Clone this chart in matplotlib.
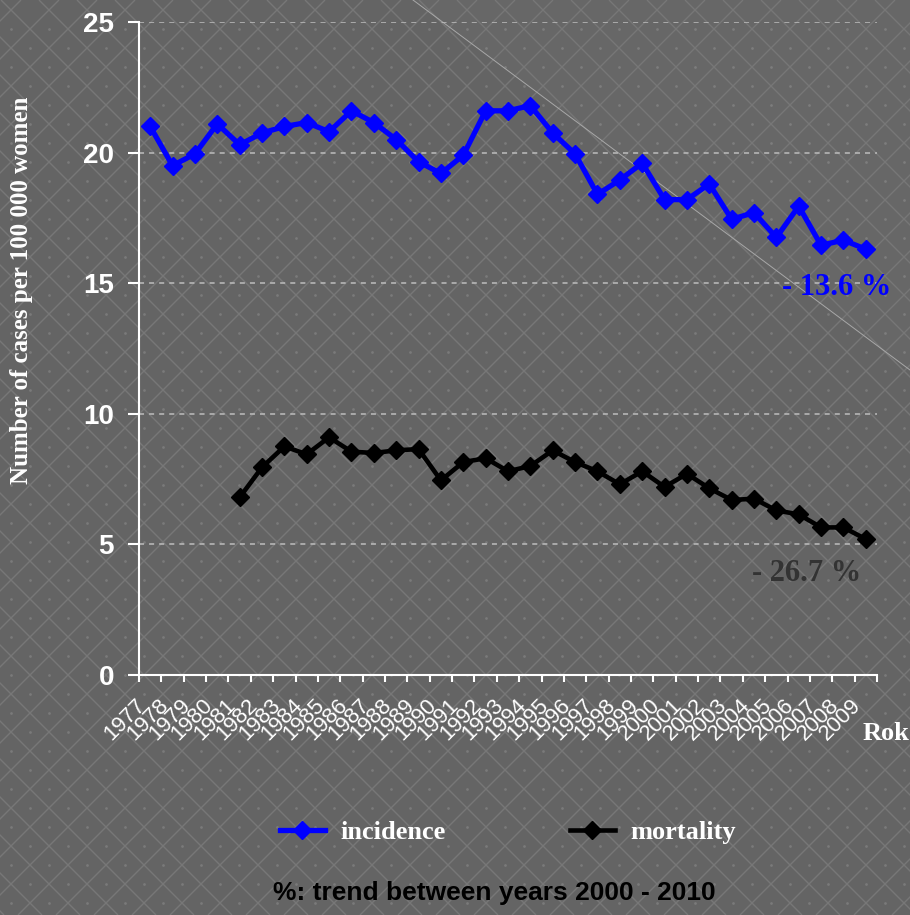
import matplotlib
matplotlib.use('Agg')
import matplotlib.pyplot as plt
import numpy as np
from matplotlib.collections import LineCollection

# data
years = list(range(1977, 2010))
incidence = [21.0, 19.5, 19.95, 21.1, 20.3, 20.75, 21.0, 21.15, 20.8, 21.6, 21.15, 20.5,
             19.65, 19.2, 19.9, 21.6, 21.6, 21.8, 20.75, 19.95, 18.4, 18.95, 19.6, 18.2,
             18.2, 18.8, 17.45, 17.7, 16.75, 17.95, 16.45, 16.65, 16.3]
mort_years = list(range(1981, 2010))
mortality = [6.8, 7.95, 8.75, 8.45, 9.1, 8.55, 8.5, 8.6, 8.65, 7.45, 8.15, 8.3, 7.8,
             8.0, 8.6, 8.15, 7.8, 7.3, 7.8, 7.2, 7.7, 7.15, 6.7, 6.75, 6.3, 6.15,
             5.65, 5.65, 5.2]
inc_trend = '- 13.6 %'
mort_trend = '- 26.7 %'

W, H = 910, 915
fig = plt.figure(figsize=(W / 100, H / 100), dpi=100)
fig.patch.set_facecolor('#646464')

# background lattice (pixel coordinates)
bg = fig.add_axes([0, 0, 1, 1])
bg.set_xlim(0, W)
bg.set_ylim(H, 0)
bg.axis('off')
segs = []
for c in np.arange(59 - 38 * 30, W + H + 38, 38):
    segs.append([(c, 0), (c - H, H)])
for c in np.arange(1 - 38 * 30, W + 38, 38):
    segs.append([(c, 0), (c + H, H)])
bg.add_collection(LineCollection(segs, colors='#777777', linewidths=1.0))
dx, dy = np.meshgrid(np.arange(11, W, 38), np.arange(29, H, 38))
bg.scatter(dx.ravel(), dy.ravel(), s=4, color='#7a7a7a', lw=0)
dx, dy = np.meshgrid(np.arange(30, W, 38), np.arange(48, H, 38))
bg.scatter(dx.ravel(), dy.ravel(), s=4, color='#7a7a7a', lw=0)
bg.fill([413, W, W], [0, 0, 370], color='white', alpha=0.025, lw=0)
bg.plot([413, W], [0, 370], color='#a8a8a8', lw=0.7)

ax = fig.add_axes([139 / W, 1 - 675 / H, 738 / W, 653 / H])
ax.set_facecolor('none')

xi = np.arange(len(years))
xm = np.array([years.index(y) for y in mort_years])
ax.plot(xi, incidence, color='#0000ff', lw=3.8, marker='D', ms=9.5, label='incidence')
ax.plot(xm, mortality, color='black', lw=3.3, marker='D', ms=9, label='mortality')

ax.set_xlim(-0.5, len(years) - 0.5)
ax.set_ylim(0, 25)
ax.set_yticks([0, 5, 10, 15, 20, 25])
for v in [5, 10, 15, 20, 25]:
    ax.axhline(v, color='#bdbdbd', lw=1.1, ls=(0, (3.3, 3.3)), zorder=0)

ax.set_xticks(np.arange(-0.5, len(years), 1.0), minor=False)
ax.set_xticklabels([])
ax.set_xticks(xi, minor=True)
ax.set_xticklabels([str(y) for y in years], minor=True, rotation=45, ha='right', va='top',
                   fontsize=16, family='Liberation Sans', color='white')
ax.tick_params(axis='x', which='major', direction='out', length=5, width=1.5, color='white')
ax.tick_params(axis='x', which='minor', length=0, pad=14)
ax.tick_params(axis='y', direction='out', length=8, width=1.5, color='white', pad=10,
               labelsize=20, labelcolor='white')
for t in ax.get_yticklabels():
    t.set_fontweight('bold')
    t.set_family('Liberation Sans')

for s in ['top', 'right']:
    ax.spines[s].set_visible(False)
for s in ['left', 'bottom']:
    ax.spines[s].set_color('white')
    ax.spines[s].set_linewidth(1.5)

serif = 'Liberation Serif'
ax.text(30.7, 14.55, inc_trend, color='#0000ff', fontsize=22, fontweight='bold',
        family=serif, ha='center', va='baseline')
ax.text(29.37, 3.6, mort_trend, color='#333333', fontsize=22, fontweight='bold',
        family=serif, ha='center', va='baseline')

fig.text(22 / W, 1 - 290 / H, 'Number of cases per 100 000 women', rotation=90,
         ha='center', va='center', color='white', fontsize=18, fontweight='bold', family=serif)
fig.text(886 / W, 1 - 733 / H, 'Rok', ha='center', va='center', color='white',
         fontsize=19, fontweight='bold', family=serif)

fig.legend(loc='center', bbox_to_anchor=(508 / W, 1 - 832 / H), ncol=2, frameon=False,
           handlelength=1.7, handletextpad=0.6, columnspacing=4.7,
           prop={'family': serif, 'weight': 'bold', 'size': 19}, labelcolor='white')

fig.text(494 / W, 1 - 893 / H, '%: trend between years 2000 - 2010', ha='center', va='center',
         color='black', fontsize=19, fontweight='bold', family='Liberation Sans')

fig.savefig('out.png', dpi=100, facecolor=fig.get_facecolor())
